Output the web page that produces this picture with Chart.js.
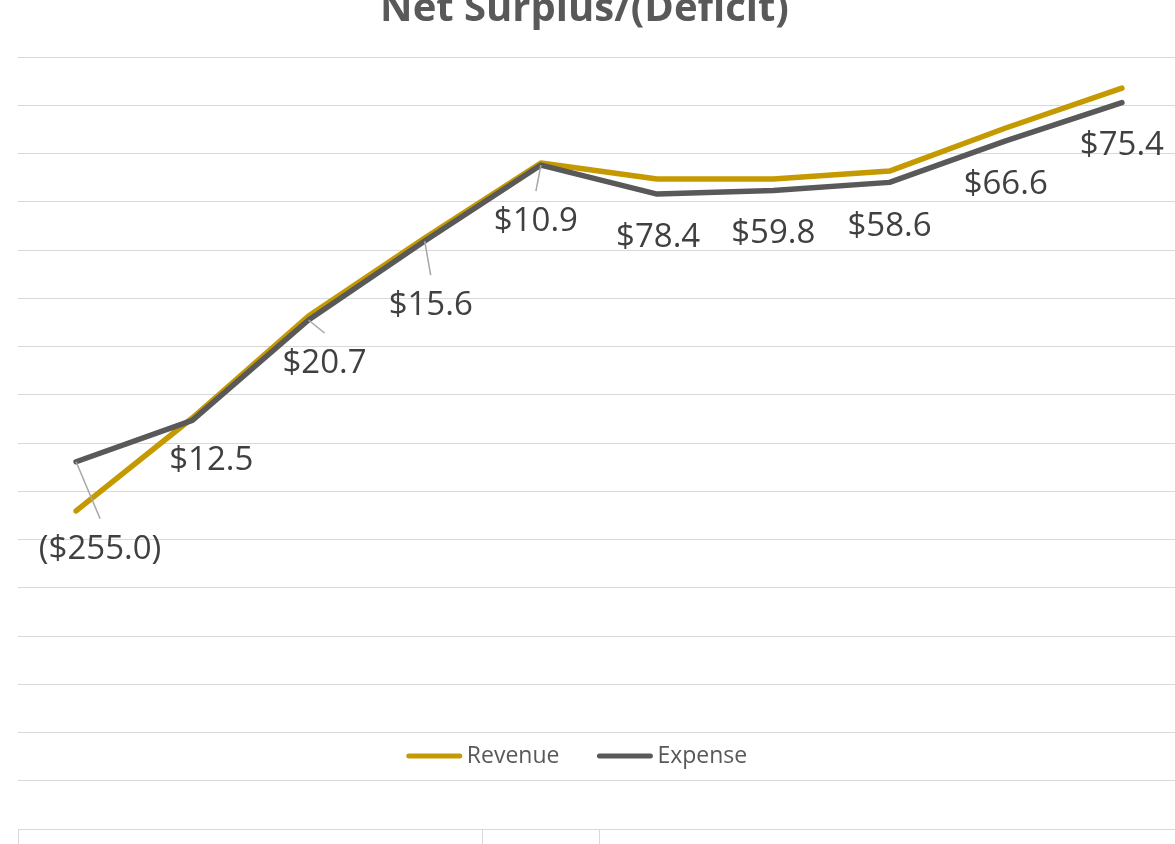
<!DOCTYPE html>
<html>
<head>
<meta charset="utf-8">
<title>Net Surplus/(Deficit)</title>
<script src="https://cdn.jsdelivr.net/npm/chart.js@4.4.1/dist/chart.umd.min.js"></script>
<style>
  body { margin: 0; overflow: hidden; background: #fff; }
  #wrap { position: absolute; left: 0; top: 0; width: 1190px; height: 900px; }
  #title {
    position: absolute; left: 0; top: -14px; width: 1169px;
    text-align: center; white-space: nowrap;
    font: bold 40px/40px 'Open Sans', sans-serif; color: #595959;
  }
</style>
</head>
<body>
<div id="wrap"><canvas id="netChart"></canvas></div>
<div id="title">Net Surplus/(Deficit)</div>
<script>
const years = ['FY2016', 'FY2017', 'FY2018', 'FY2019', 'FY2020', 'FY2021', 'FY2022', 'FY2023', 'FY2024', 'FY2025'];
const revenue = [1648.0, 2129.5, 2658.0, 3062.0, 3451.0, 3368.0, 3368.0, 3409.0, 3632.0, 3839.0];
const expense = [1903.0, 2117.0, 2637.3, 3046.4, 3440.1, 3289.6, 3308.2, 3350.4, 3565.4, 3763.6];
const groupEdges = [0, 4, 5];

// net label placement relative to each Expense point, plus which ones get a leader line
const labelShift = [[24, 88], [19, 40], [16, 44], [6, 65], [-5, 57], [1, 43], [0, 43], [0, 44], [0, 44], [0, 43]];
const leaderLine = [true, false, true, true, true, false, false, false, false, false];

function formatNet(v) {
    const s = '$' + Math.abs(v).toFixed(1);
    return v < 0 ? '(' + s + ')' : s;
}

const netLabels = {
    id: 'netLabels',
    afterDatasetsDraw(chart) {
        const ctx = chart.ctx;
        const points = chart.getDatasetMeta(1).data;
        ctx.save();
        ctx.font = '33px "Open Sans"';
        ctx.textAlign = 'center';
        ctx.textBaseline = 'middle';
        points.forEach((pt, i) => {
            const x = pt.x + labelShift[i][0];
            const y = pt.y + labelShift[i][1];
            if (leaderLine[i]) {
                ctx.strokeStyle = '#a6a6a6';
                ctx.lineWidth = 1.5;
                ctx.beginPath();
                ctx.moveTo(pt.x, pt.y);
                ctx.lineTo(x, y - 31);
                ctx.stroke();
            }
            ctx.fillStyle = '#404040';
            ctx.fillText(formatNet(revenue[i] - expense[i]), x, y);
        });
        ctx.restore();
    }
};

// legend sits inside the plot, near the bottom
const lineLegend = {
    id: 'lineLegend',
    afterDraw(chart) {
        const ctx = chart.ctx;
        const sets = chart.data.datasets;
        const swatch = 55, gap = 5, spacing = 38;
        const y = 756;
        ctx.save();
        ctx.font = '23px "Open Sans"';
        ctx.textBaseline = 'middle';
        const widths = sets.map(ds => swatch + gap + ctx.measureText(ds.label).width);
        const total = widths.reduce((a, b) => a + b, 0) + spacing * (sets.length - 1);
        let x = 577 - total / 2;
        sets.forEach((ds, i) => {
            ctx.strokeStyle = ds.borderColor;
            ctx.lineWidth = 5;
            ctx.lineCap = 'round';
            ctx.beginPath();
            ctx.moveTo(x + 2, y);
            ctx.lineTo(x + swatch - 2, y);
            ctx.stroke();
            ctx.fillStyle = '#595959';
            ctx.fillText(ds.label, x + swatch + gap, y);
            x += widths[i] + spacing;
        });
        ctx.restore();
    }
};

new Chart(document.getElementById('netChart'), {
    type: 'line',
    data: {
        labels: years,
        datasets: [
            { label: 'Revenue', data: revenue, borderColor: '#c59a00', order: 1 },
            { label: 'Expense', data: expense, borderColor: '#595959', order: 0 }
        ]
    },
    options: {
        responsive: true,
        maintainAspectRatio: false,
        animation: false,
        layout: { padding: { top: 57, bottom: 56, left: 18, right: 10 } },
        elements: {
            point: { radius: 0 },
            line: { borderWidth: 5.5, borderCapStyle: 'round', borderJoinStyle: 'round', tension: 0 }
        },
        plugins: {
            legend: { display: false },
            title: { display: false },
            tooltip: { enabled: false }
        },
        scales: {
            x: {
                offset: true,
                ticks: { display: false },
                grid: {
                    offset: true,
                    drawOnChartArea: false,
                    tickLength: 15,
                    color: c => groupEdges.includes(c.index) ? '#d9d9d9' : 'rgba(0,0,0,0)'
                },
                border: { color: '#d9d9d9' }
            },
            y: {
                min: 0,
                max: 4000,
                ticks: { display: false, stepSize: 250 },
                grid: { color: '#d9d9d9', drawTicks: false },
                border: { display: false }
            }
        }
    },
    plugins: [netLabels, lineLegend]
});
</script>
</body>
</html>
